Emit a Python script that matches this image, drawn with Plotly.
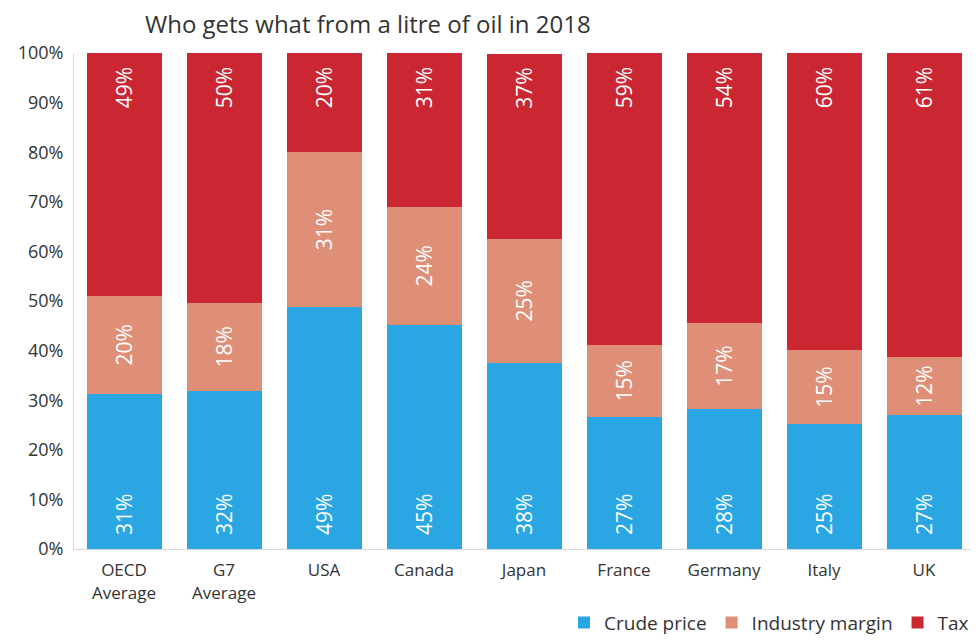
import plotly.graph_objects as go

categories = ["OECD<br>Average", "G7<br>Average", "USA", "Canada", "Japan",
              "France", "Germany", "Italy", "UK"]
crude_price = [31.2, 31.9, 48.8, 45.2, 37.6, 26.6, 28.2, 25.2, 27.0]
industry_margin = [19.9, 17.7, 31.2, 23.8, 24.9, 14.6, 17.4, 14.9, 11.7]
tax = [48.9, 50.4, 20.0, 31.0, 37.4, 58.8, 54.4, 59.9, 61.3]
y_ticks = [0, 10, 20, 30, 40, 50, 60, 70, 80, 90, 100]

FONT = "Open Sans"
PAD = "\u00a0\u00a0"
fig = go.Figure()
series = [
    ("Crude price", crude_price, "#2AA7E3", "start", PAD + "%{y:.0f}%"),
    ("Industry margin", industry_margin, "#DF8F77", "middle", "%{y:.0f}%"),
    ("Tax", tax, "#CB2733", "end", "%{y:.0f}%" + PAD),
]
for name, vals, color, anchor, tmpl in series:
    fig.add_trace(go.Bar(
        name=name, x=categories, y=vals,
        marker=dict(color=color, line=dict(width=0)),
        texttemplate=tmpl, textposition="inside",
        insidetextanchor=anchor, textangle=-90, constraintext="none",
        textfont=dict(color="white", size=21, family=FONT),
        hoverinfo="skip",
    ))

fig.update_layout(
    barmode="stack", bargap=0.25,
    width=971, height=632,
    margin=dict(l=66, r=5, t=45, b=91, autoexpand=False),
    plot_bgcolor="white", paper_bgcolor="white",
    font=dict(family=FONT, color="#333333", size=17),
    title=dict(text="Who gets what from a litre of oil in 2018",
               x=137/971, xanchor="left", y=1-17/632, yanchor="middle",
               font=dict(size=24, color="#333333", family=FONT)),
    showlegend=True,
    legend=dict(orientation="h", x=1, xanchor="right", y=-0.11, yanchor="top",
                font=dict(size=19, family=FONT, color="#333333"),
                traceorder="normal", itemwidth=30),
)
fig.update_xaxes(showline=True, linecolor="#d9d9d9", linewidth=1,
                 ticks="", tickfont=dict(size=17), showgrid=False, automargin=False,
                 ticklabelstandoff=6)
fig.update_yaxes(range=[0, 100], tickvals=y_ticks,
                 ticktext=[f"{v}%" for v in y_ticks],
                 showgrid=False, zeroline=False, showline=True,
                 linecolor="#d9d9d9", linewidth=1, ticks="",
                 tickfont=dict(size=18), ticklabelstandoff=6, automargin=False)

fig.write_html("out.html")
